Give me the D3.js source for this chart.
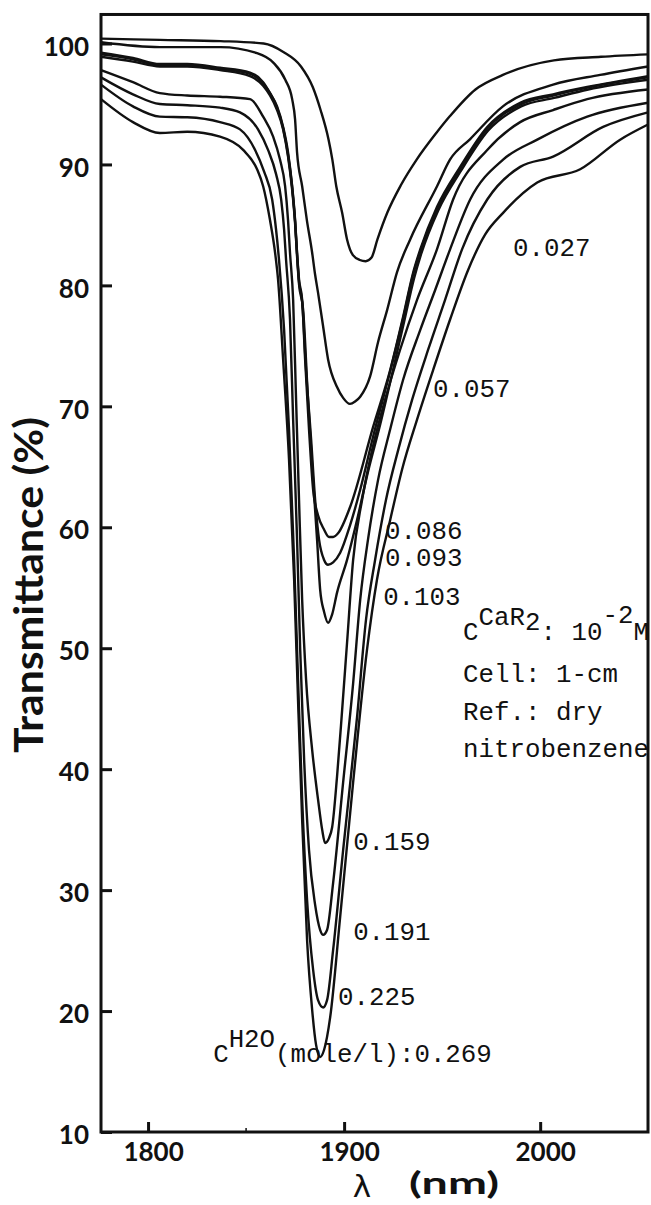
<!DOCTYPE html>
<html>
<meta charset="utf-8">
<style>
body { margin: 0; background: #fff; }
svg { display: block; background: #fff; }
.curve { fill: none; stroke: #111; stroke-width: 2.4; stroke-linejoin: round; }
.frame { fill: none; stroke: #111; stroke-width: 3; }
.axis path { display: none; }
.axis line { stroke: #111; stroke-width: 3; }
.axis text { font-family: Lato, sans-serif; font-weight: 700; font-size: 26px; fill: #111; }
.note { font-family: 'Liberation Mono', monospace; font-size: 25.8px; fill: #111; }
.title { font-family: Lato, sans-serif; font-weight: 700; fill: #111; }
</style>
<body>
<svg width="651" height="1205"></svg>
<script src="https://d3js.org/d3.v7.min.js"></script>
<script>

// water concentrations (mole/l), one curve each
var concentrations = ["0.027", "0.057", "0.086", "0.093", "0.103", "0.159", "0.191", "0.225", "0.269"];

// [wavelength nm, transmittance %]
var curve027 = [[1776,100.4],[1806,100.3],[1837,100.2],[1859,100.0],[1869,99.3],[1878,98.1],[1884,96.4],[1888,94.5],[1892,92.1],[1894,90.4],[1896,88.2],[1899,86.0],[1901.5,83.8],[1904.5,82.5],[1908,82.1],[1911,82.0],[1914,82.3],[1917,83.8],[1922,86.0],[1929,88.3],[1937,90.4],[1947,92.6],[1954,94.0],[1967,96.2],[1981,97.4],[2007,98.6],[2031,98.9],[2055,99.1]];
var curve057 = [[1776,100.1],[1806,99.7],[1837,99.7],[1855.6,99.2],[1864,98.4],[1870,97.0],[1873.5,95.4],[1875,93.7],[1876,91.0],[1878.6,88.2],[1881,85.4],[1883.7,82.7],[1885.2,80.9],[1886.7,79.4],[1889.3,76.6],[1891.8,73.9],[1896.4,71.6],[1899.5,70.7],[1903,70.2],[1905.6,70.4],[1908.2,70.8],[1913.3,72.5],[1917.3,75.3],[1922,78.0],[1927,81.1],[1933.7,83.8],[1947.4,88.2],[1954,90.4],[1964.3,92.1],[1981,94.8],[2006.6,96.6],[2030.6,97.4],[2055,98.1]];
var curve086 = [[1776,99.25],[1792.3,98.8],[1806,98.3],[1820,98.3],[1836.7,98.0],[1852,97.6],[1858.7,96.8],[1862.2,95.9],[1865.8,94.8],[1868.9,93.1],[1871.4,91.0],[1873.5,88.2],[1875,85.4],[1876,82.7],[1877,80.5],[1878.6,78.8],[1880.1,73.9],[1882.1,68.1],[1884.2,63.1],[1886.7,61.0],[1889.8,59.8],[1892.3,59.2],[1894.4,59.2],[1896.9,59.5],[1903.1,61.7],[1914.8,68.3],[1923.5,73.0],[1930.1,77.4],[1935.2,81.05],[1938.8,82.95],[1947.4,86.5],[1959.2,89.8],[1973,93.1],[1989.8,95.1],[2006.6,95.8],[2024,96.4],[2055,97.3]];
var curve093 = [[1776,99.1],[1792.3,98.7],[1806,98.2],[1820,98.2],[1836.7,97.9],[1852,97.5],[1858.7,96.7],[1862.2,95.9],[1865.8,94.7],[1868.9,93.0],[1871.4,90.8],[1873.5,88.1],[1875,85.3],[1876,82.6],[1877,80.3],[1878.6,78.65],[1880.6,73.0],[1883.2,67.2],[1885.2,62.3],[1887.2,59.0],[1889.8,57.3],[1891.8,56.9],[1894.4,57.1],[1898,57.9],[1903.1,60.2],[1908.2,63.1],[1914.8,67.5],[1923.5,72.9],[1930.1,77.25],[1935.2,80.9],[1938.8,82.8],[1947.4,86.3],[1959.2,89.65],[1973,92.96],[1989.8,94.95],[2006.6,95.7],[2024,96.35],[2055,97.2]];
var curve103 = [[1776,98.9],[1792.3,98.5],[1806,98.1],[1820,98.1],[1836.7,97.8],[1852,97.3],[1858.7,96.5],[1862.2,95.7],[1865.8,94.5],[1868.9,92.9],[1871.4,90.65],[1873.5,87.9],[1875,85.1],[1876,82.4],[1877,80.1],[1879.1,78.0],[1881.6,70.55],[1884.2,63.9],[1886.2,59.0],[1887.8,54.8],[1889.8,53.0],[1891.8,52.1],[1893.9,52.8],[1896.4,54.6],[1901.5,57.3],[1906.6,60.6],[1912.2,64.6],[1918.4,68.5],[1924.5,72.7],[1930.6,77.0],[1935.7,80.6],[1939.3,82.6],[1948,86.2],[1959.7,89.5],[1973.5,92.8],[1990.3,94.8],[2007.1,95.5],[2024.5,96.2],[2055,97.0]];
var curve159 = [[1776,97.8],[1792.3,96.8],[1806,95.9],[1820,95.7],[1836.7,95.6],[1852,95.4],[1858.7,93.95],[1863.8,92.3],[1867.3,90.4],[1869.9,88.2],[1871.4,85.4],[1872.4,82.7],[1874,78.8],[1875.5,70.55],[1877,62.3],[1878.6,54.0],[1880.6,47.4],[1883.7,41.6],[1886.7,37.5],[1888.8,35.0],[1890.3,33.9],[1892.3,34.3],[1893.9,35.2],[1896.4,39.4],[1899,44.9],[1901.5,50.45],[1904.6,57.3],[1909.2,62.3],[1914.3,66.4],[1920.9,70.55],[1928.6,74.7],[1937.2,78.8],[1947.4,83.0],[1955.6,87.1],[1973,91.2],[1989.8,93.5],[2006.6,94.5],[2024,95.4],[2055,96.2]];
var curve191 = [[1776,97.2],[1792.3,95.8],[1806,95.0],[1820,94.9],[1836.7,94.7],[1846.9,94.3],[1856.1,92.9],[1861.2,91.2],[1865.3,89.2],[1867.9,87.1],[1869.4,84.6],[1870.4,82.1],[1872.4,77.2],[1874,68.9],[1876,59.0],[1877.6,49.9],[1879.6,40.8],[1882.1,33.3],[1885.2,28.8],[1887.8,26.7],[1889.3,26.3],[1891.3,26.7],[1894.4,30.6],[1899.5,38.9],[1904.6,47.1],[1908.2,54.0],[1912.2,59.0],[1917.3,63.9],[1923.5,68.1],[1930.1,72.2],[1938.8,76.3],[1946.4,79.6],[1954.1,83.0],[1964.3,87.1],[1981.1,90.4],[1998.5,92.05],[2024,93.95],[2055,95.1]];
var curve225 = [[1776,96.6],[1792.3,94.8],[1806,93.95],[1820,93.9],[1836.7,93.5],[1846.9,92.9],[1854.6,91.2],[1859.2,89.4],[1863.3,87.1],[1865.3,84.6],[1866.8,82.1],[1869.4,76.3],[1871.9,68.1],[1874.5,57.3],[1876.5,47.4],[1878.6,37.5],[1881.1,29.2],[1884.2,23.4],[1886.7,20.9],[1889.3,20.3],[1891.3,20.9],[1894.4,25.05],[1899.5,33.3],[1906.6,44.3],[1911.2,52.4],[1915.8,57.3],[1921.4,62.3],[1927.6,66.4],[1934.7,70.55],[1942.9,74.7],[1951.5,78.8],[1960.2,83.0],[1973,87.1],[1989.8,89.8],[2006.6,90.65],[2032.1,93.1],[2055,94.3]];
var curve269 = [[1776,95.4],[1792.3,93.5],[1806,92.6],[1820,92.7],[1836.7,92.3],[1848.5,91.2],[1855.6,89.6],[1858.7,88.2],[1862.2,85.4],[1864.8,82.7],[1866.3,80.5],[1868.9,73.85],[1871.9,65.6],[1874.5,55.7],[1876.5,45.7],[1878.6,35.8],[1881.1,25.9],[1883.7,20.1],[1885.7,17.2],[1887.8,16.2],[1889.8,16.8],[1892.9,19.5],[1898,27.8],[1904.6,38.9],[1911.7,49.9],[1916.8,55.7],[1923.5,60.6],[1929.6,64.8],[1937.2,68.9],[1945.4,73.0],[1954.1,77.2],[1963.3,81.3],[1971.9,84.2],[1981.1,86.0],[1998.5,88.5],[2020.4,89.6],[2040.8,92.05],[2055,93.3]];

var curves = [curve027, curve057, curve086, curve093, curve103, curve159, curve191, curve225, curve269];

var xTicks = [1800, 1900, 2000];
var xMinorTicks = [1850];
var yTicks = [10, 20, 30, 40, 50, 60, 70, 80, 90, 100];

var svg = d3.select("svg");

var x = d3.scaleLinear().domain([1776, 2055]).range([101, 648]);
var y = d3.scaleLinear().domain([10, 100]).range([1132, 43.5]);
var yTop = 102.4;

var line = d3.line()
  .x(function(d) { return x(d[0]); })
  .y(function(d) { return y(d[1]); })
  .curve(d3.curveMonotoneX);

svg.selectAll("path.curve")
  .data(curves)
  .enter().append("path")
  .attr("class", "curve")
  .attr("d", line);

// frame
svg.append("rect").attr("class", "frame")
  .attr("x", x(1776)).attr("y", y(yTop))
  .attr("width", x(2055) - x(1776))
  .attr("height", y(10) - y(yTop));

var yAxis = svg.append("g").attr("class", "axis")
  .attr("transform", "translate(" + x(1776) + ",0)")
  .call(d3.axisLeft(y).tickValues(yTicks).tickSizeInner(-11).tickSizeOuter(0).tickPadding(12));
yAxis.selectAll("text").attr("dy", "0.45em");

var xAxis = svg.append("g").attr("class", "axis")
  .attr("transform", "translate(0," + y(10) + ")")
  .call(d3.axisBottom(x).tickValues(xTicks).tickFormat(d3.format("d"))
    .tickSizeInner(-10).tickSizeOuter(0).tickPadding(11));
xAxis.selectAll("text").attr("dx", "5");

svg.selectAll("line.minor")
  .data(xMinorTicks)
  .enter().append("line")
  .attr("class", "minor")
  .attr("x1", function(d) { return x(d); }).attr("x2", function(d) { return x(d); })
  .attr("y1", y(10)).attr("y2", y(10) - 4)
  .attr("stroke", "#111").attr("stroke-width", 1.5);

// axis titles
svg.append("text").attr("class", "title")
  .attr("transform", "translate(43,585) rotate(-90)")
  .attr("text-anchor", "middle")
  .attr("font-size", 40)
  .attr("textLength", 336).attr("lengthAdjust", "spacingAndGlyphs")
  .text("Transmittance (%)");

svg.append("text")
  .attr("x", 362).attr("y", 1197)
  .attr("text-anchor", "middle")
  .attr("font-family", "'DejaVu Sans', sans-serif")
  .attr("font-size", 31).attr("fill", "#111")
  .text("λ");

svg.append("text").attr("class", "title")
  .attr("x", 409).attr("y", 1194)
  .attr("font-size", 31)
  .attr("textLength", 90).attr("lengthAdjust", "spacingAndGlyphs")
  .text("(nm)");

// concentration labels
var labelAt = {
  "0.027": [1986.2, 82.4],
  "0.057": [1945.4, 70.8],
  "0.086": [1920.9, 59.0],
  "0.093": [1920.9, 56.8],
  "0.103": [1919.9, 53.6],
  "0.159": [1904.6, 33.3],
  "0.191": [1904.6, 25.9],
  "0.225": [1896.9, 20.5]
};

svg.selectAll("text.conc")
  .data(concentrations.slice(0, 8))
  .enter().append("text")
  .attr("class", "note conc")
  .attr("x", function(d) { return x(labelAt[d][0]); })
  .attr("y", function(d) { return y(labelAt[d][1]); })
  .text(function(d) { return d; });

var last = svg.append("text").attr("class", "note")
  .attr("x", x(1833.2)).attr("y", y(15.8));
last.append("tspan").text("C");
last.append("tspan").attr("dy", -15).text("H2O");
last.append("tspan").attr("dy", 15).text("(mole/l):" + concentrations[8]);

var ca = svg.append("text").attr("class", "note")
  .attr("x", x(1960.7)).attr("y", y(50.7));
ca.append("tspan").text("C");
ca.append("tspan").attr("dy", -15).text("CaR");
ca.append("tspan").attr("dy", 5).text("2");
ca.append("tspan").attr("dy", 10).text(": 10");
ca.append("tspan").attr("dy", -17).text("-2");
ca.append("tspan").attr("dy", 17).text("M");

var notes = ["Cell: 1-cm", "Ref.: dry", "nitrobenzene"];
var noteT = [47.2, 44.1, 41.0];
svg.selectAll("text.cond")
  .data(notes)
  .enter().append("text")
  .attr("class", "note cond")
  .attr("x", x(1960.7))
  .attr("y", function(d, i) { return y(noteT[i]); })
  .text(function(d) { return d; });

</script>
</body>
</html>
